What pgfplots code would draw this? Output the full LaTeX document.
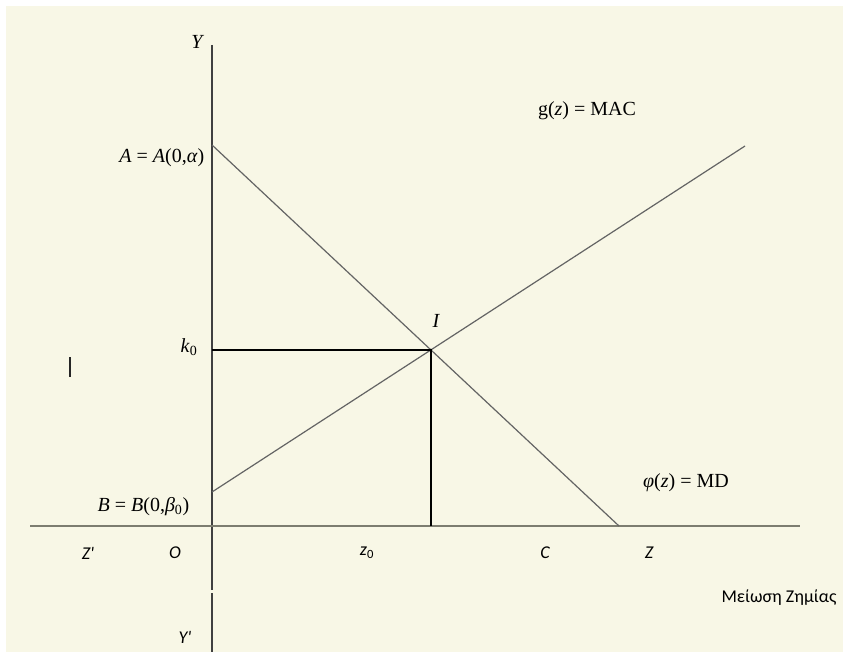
\documentclass[border=0pt]{standalone}
\usepackage{pgfplots}
\pgfplotsset{compat=1.18}
\usepackage{fontspec}
\setmainfont{Liberation Serif}
\newfontfamily\calib{Carlito}
\definecolor{cream}{RGB}{248,247,230}
\definecolor{xaxcol}{RGB}{125,125,112}
\definecolor{lncol}{RGB}{100,100,100}
\begin{document}
\begin{tikzpicture}
\begin{axis}[scale only axis, width=636.75pt, height=493.5pt,
  xmin=0, xmax=849, ymin=0, ymax=658, hide axis, clip=false]
\fill[white] (axis cs:0,0) rectangle (axis cs:849,658);
\fill[cream] (axis cs:6,6) rectangle (axis cs:843,652);
% Y axis (with small break)
\addplot[line width=1.1pt, color=black!75, no marks] coordinates {(212,613) (212,68)};
\addplot[line width=1.1pt, color=black!75, no marks] coordinates {(212,65) (212,6)};
% X axis
\addplot[line width=1.8pt, color=xaxcol, no marks] coordinates {(30,132) (800,132)};
% MD line
\addplot[line width=0.9pt, color=lncol, no marks] coordinates {(212,513) (619,132)};
% MAC line
\addplot[line width=0.9pt, color=lncol, no marks] coordinates {(212,166) (745,512)};
% k0 lines
\addplot[line width=0.8pt, color=black, no marks] coordinates {(212,308) (431,308) (431,132)};
% cursor bar
\addplot[line width=1.5pt, color=black!85, no marks] coordinates {(70,301) (70,281)};
% labels
\node[font=\fontsize{15pt}{18pt}\selectfont\itshape] at (axis cs:197,616) {Y};
\node[anchor=east, font=\fontsize{15pt}{18pt}\selectfont] at (axis cs:209,500) {\textit{A} = \textit{A}(0,\textit{α})};
\node[font=\fontsize{15pt}{18pt}\selectfont] at (axis cs:189,311) {\textit{k}\textsubscript{0}};
\node[anchor=east, font=\fontsize{15pt}{18pt}\selectfont] at (axis cs:194,151) {\textit{B} = \textit{B}(0,\textit{β}\textsubscript{0})};
\node[font=\fontsize{15pt}{18pt}\selectfont] at (axis cs:587,547) {g(\textit{z}) = MAC};
\node[font=\fontsize{15pt}{18pt}\selectfont\itshape] at (axis cs:436,337) {I};
\node[font=\fontsize{15pt}{18pt}\selectfont] at (axis cs:686,175) {\textit{φ}(\textit{z}) = MD};
\node[font=\fontsize{13.5pt}{15pt}\selectfont\calib\itshape] at (axis cs:88,105) {Z'};
\node[font=\fontsize{13.5pt}{15pt}\selectfont\calib\itshape] at (axis cs:175,105) {O};
\node[font=\fontsize{13.5pt}{15pt}\selectfont\calib\itshape] at (axis cs:367,105) {z\textsubscript{\upshape 0}};
\node[font=\fontsize{13.5pt}{15pt}\selectfont\calib\itshape] at (axis cs:545,105) {C};
\node[font=\fontsize{13.5pt}{15pt}\selectfont\calib\itshape] at (axis cs:649,105) {Z};
\node[font=\fontsize{13.5pt}{15pt}\selectfont\calib] at (axis cs:779,60) {Μείωση Ζημίας};
\node[font=\fontsize{13.5pt}{15pt}\selectfont\calib\itshape] at (axis cs:185,21) {Y'};
\end{axis}
\end{tikzpicture}
\end{document}
